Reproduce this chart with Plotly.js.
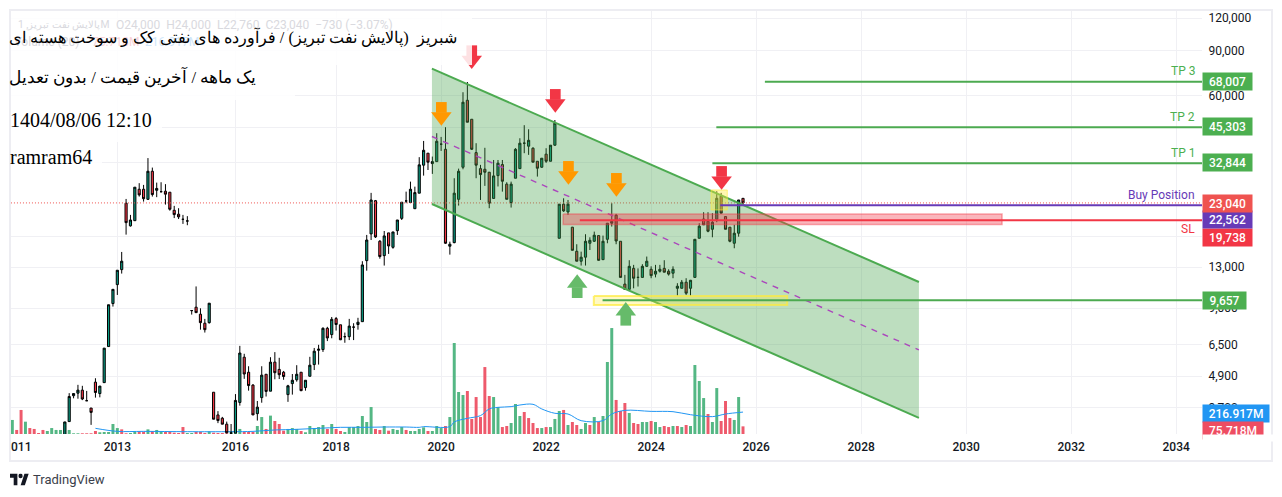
<!DOCTYPE html>
<html><head><meta charset="utf-8">
<script src="https://cdn.plot.ly/plotly-3.0.1.min.js"></script>
<style>html,body{margin:0;padding:0;background:#fff}#c{width:1282px;height:497px}</style>
</head><body><div id="c"></div>
<script>
// candles start at bar 12
const open=[2850,3270,4120,4215,4330,3940,3690,4650,4200,4630,
6390,9380,11110,12700,22980,18770,19660,26030,26030,23790,
30570,25790,25480,25570,25350,21570,20830,19900,19610,8810,
9080,8530,7870,7910,4250,3470,3370,3195,2950,2950,
3880,5810,5080,4530,3510,4050,4990,4290,5560,5210,
5080,4160,4590,4750,5080,4430,4900,5440,6180,6220,
7520,7110,8200,7760,6980,6980,7600,7780,7980,13760,
17470,23510,16360,14390,17630,15500,17980,20070,23450,23110,
21880,25130,32270,35910,32730,33310,38920,37190,15650,16160,
23790,31680,57600,48620,36100,31290,31110,30300,23980,29400,
32440,27240,23110,28720,31290,39260,38230,37540,33420,31690,
35600,33420,38570,16800,22780,21260,18550,14960,13690,14190,
16070,16360,17210,13880,16650,19220,20650,16360,11160,10650,
12840,11850,11850,13080,12740,12200,12520,12840,12520,12300,
10750,10750,11350,10750,11850,16800,19950,19560,18210,19900,
24470,20390,18550,16070,17580,24000];
const high=[3260,4215,4200,4540,4500,4300,3690,4815,4490,6300,
9280,10650,12630,14870,23870,20700,26510,27480,27060,34380,
31580,27620,27710,27240,25350,22440,21970,20700,20470,8810,
10930,8990,8180,9410,4250,3590,3410,3270,3200,4180,
6430,5990,5360,4570,3930,5360,4990,5810,6080,5780,
5140,4540,5000,5410,5080,4730,5830,6310,6490,7590,
7620,8320,8320,7760,7240,8180,7870,8260,13690,17310,
25200,23650,16540,17930,17630,17780,19780,23180,25480,27860,
26640,34660,40060,35910,34850,42930,41530,45290,16300,28720,
31290,61900,67810,48620,39260,32360,37680,30380,33800,33800,
33800,27710,27860,37570,41040,46120,44470,37880,33420,34340,
37540,38570,48300,22780,24010,23650,18600,15930,14910,17420,
16950,17830,17210,17210,19220,22980,20890,16360,12120,13810,
13250,12840,13330,14270,13080,13250,13250,13810,12740,13080,
11250,11580,11760,11580,16650,19220,21200,21200,21020,25570,
25200,20390,18550,18940,23650,24000];
const low=[2850,3270,4025,4010,3960,3940,3175,4050,4060,4630,
6390,9130,10130,12260,17360,18650,19660,24380,23310,23650,
24380,24250,25260,22700,21500,20120,19950,19100,18880,8500,
8650,7430,7240,7840,3340,3225,3195,2940,2950,2950,
3770,4790,4310,3470,3300,3870,4090,4290,4770,4780,
4750,3900,4160,4670,4290,4310,4900,5180,5440,6090,
6710,6880,7370,6770,6610,6770,6770,7430,7980,12580,
16540,16850,14000,13170,14610,15310,17310,19780,22980,23040,
21880,25130,29400,30910,29850,33310,36640,15980,14520,16070,
22500,31110,47350,36950,28720,23650,26820,21970,23980,26680,
25480,23790,22100,28720,31290,35910,35380,33140,29140,31490,
32930,33420,38330,16800,21260,20700,15090,13690,13170,13170,
15130,16260,13760,13840,16070,18650,15930,11850,10650,10650,
10750,10920,11850,13000,11760,11850,12370,12410,12040,11760,
10070,10750,10130,10070,11850,16800,18940,17730,16950,19390,
21020,18210,16210,15370,17040,22760];
const close=[3260,4090,4200,4330,4000,3940,3550,4240,4490,6300,
9280,10650,12630,13690,19320,19780,26510,24750,23930,30570,
24820,26220,25480,24910,21770,20760,20340,19900,19610,8810,
8650,7910,7430,9410,3340,3300,3195,2960,2950,3950,
6030,5000,4510,3470,3720,4950,4280,5560,5060,4970,
4890,4500,4730,4990,4310,4730,5410,6130,6240,7520,
6900,8150,7780,6790,6980,7670,7600,7940,13240,16540,
23650,17000,14270,17160,15690,17780,19780,23180,23450,26030,
25260,32360,36860,33140,33310,39950,38920,16070,15930,25130,
30570,56610,47350,37190,32270,29670,30300,22980,29320,32850,
27960,23790,27240,37190,39260,39260,40300,33140,31400,34340,
33420,38570,46940,22780,21450,22780,15090,13690,14190,16360,
16500,17270,13800,16360,19220,19560,16400,11850,10650,13080,
11760,11850,13080,13690,12040,12520,12740,12410,12200,12740,
10950,11350,10290,11550,16650,18720,18940,17890,19390,24010,
21020,18210,16360,17580,23650,23040];
// volume in millions, one per bar from bar 0
const volume=[139,40,238,122,59,50,10,40,30,59,
40,40,116,40,7,7,7,7,7,30,
17,20,20,99,59,46,7,10,23,26,
23,46,30,40,23,20,20,13,10,69,
10,10,20,20,10,26,13,10,10,7,
26,26,50,20,20,20,79,168,50,182,
129,99,33,50,59,50,30,17,79,59,
69,89,50,99,50,30,20,69,69,79,
178,119,267,50,40,79,33,50,40,69,
40,30,30,50,66,30,30,79,59,79,
168,901,416,386,426,149,366,168,663,376,
366,267,69,79,109,297,178,218,158,109,
59,59,69,69,149,228,238,89,119,89,
50,109,89,168,119,178,713,1049,337,228,
307,208,109,99,119,119,129,119,69,79,
69,79,79,69,89,79,683,525,356,198,
119,455,129,327,158,139,366,75.718];
const volumeSide=[1,-1,-1,1,-1,-1,-1,-1,1,1,
1,1,1,1,1,1,-1,-1,-1,-1,
1,1,1,1,1,-1,-1,1,1,-1,
-1,1,-1,1,1,-1,-1,-1,-1,-1,
1,1,-1,-1,-1,1,-1,-1,-1,-1,
1,1,1,-1,-1,-1,1,1,-1,1,
-1,-1,-1,1,1,1,-1,1,1,1,
1,1,-1,1,-1,-1,1,1,1,1,
1,1,1,-1,-1,1,-1,1,1,1,
-1,1,1,1,1,-1,1,1,1,-1,
1,1,1,1,-1,-1,-1,-1,-1,-1,
1,1,-1,-1,1,1,1,-1,-1,-1,
-1,1,-1,1,1,1,-1,1,-1,-1,
1,1,-1,1,-1,1,1,1,-1,-1,
-1,1,-1,-1,1,1,-1,1,1,-1,
-1,1,-1,1,-1,1,1,1,1,-1,
1,1,-1,-1,-1,1,1,-1];
const maBars=[19,24,30,40,50,55,60,65,70,75,80,85,90,93,94,100,101,104,107,109,111,114,116,119,121,124,127,130,135,137,140,146,151,155,160,163,167];
const maValues=[56,26,26,23,23,26,40,46,56,66,66,69,69,66,73,73,119,155,182,248,264,271,287,294,248,205,198,132,132,198,234,224,221,191,172,198,216.917];

const channelBars=[95.9,207.2];
const channelTop=[76370,11370];
const channelMid=[41680,6200];
const channelBottom=[22820,3380];

const redZoneBars=[125.9,226.2], redZonePrices=[20870,18990];
const yellowZoneBars=[132.9,177.1], yellowZonePrices=[10030,9260];
const smallZoneBars=[159.7,163.4], smallZonePrices=[25860,21630];

const lastBar=272;
const tp3={bar:172,price:68007}, tp2={bar:160.9,price:45303}, tp1={bar:160,price:32844};
const buyLevel={bar:161.8,price:22562}, slLevel={bar:129.7,price:19738}, supportLevel={bar:134.9,price:9657};
const lastClose=23040;

const redArrowBars=[105,124.1,162.1], redArrowHeads=[82460,55820,28060], redArrowShafts=[89670,60700,30520];
const orangeArrowBars=[98.06,127.1,138.06], orangeArrowHeads=[49700,29350,26370], orangeArrowShafts=[54050,31920,28680];
const greenArrowBars=[129.1,140.2], greenArrowHeads=[11250,8780], greenArrowShafts=[10340,8080];

const yearTicks=[24,51,74,98,122,146,170,194,218,242,266];
const yearLabels=['2013','2016','2018','2020','2022','2024','2026','2028','2030','2032','2034'];
const priceTicks=[120000,90000,60000,45000,33000,17000,13000,9000,6500,4900,3700];

const titleLine1='شبریز  (پالایش نفت تبریز) / فرآورده های نفتی کک و سوخت هسته ای';
const titleLine2='یک ماهه / آخرین قیمت / بدون تعدیل';
const titleLine3='1404/08/06 12:10';
const titleLine4='ramram64';
const legendName='پالایش نفت تبریز, 1M';
const legendValues='O24,000  H24,000  L22,760  C23,040  −730 (−3.07%)';

const GREEN='#4caa50', PURPLE='#673ab7', RED='#f23645', ORANGE='#ff9800', ARROWGREEN='#66bb6a';
const barIdx=open.map((_,k)=>k+12);
const volIdx=volume.map((_,k)=>k);
const px=x=>(x-10)/1192, py=y=>(434-y)/424;

function lvl(l,color,name){return {type:'scatter',mode:'lines',x:[l.bar,lastBar],y:[l.price,l.price],yaxis:'y2',line:{color:color,width:2},hoverinfo:'skip',name:name};}
function zone(xs,ys,fill,line,name,w){return {type:'scatter',mode:'lines',x:[xs[0],xs[1],xs[1],xs[0],xs[0]],y:[ys[0],ys[0],ys[1],ys[1],ys[0]],yaxis:'y2',fill:'toself',fillcolor:fill,line:{color:line,width:w},hoverinfo:'skip',name:name};}
function mk(xs,ys,sym,size,color,name){return {type:'scatter',mode:'markers',x:xs,y:ys,yaxis:'y2',marker:{symbol:sym,size:size,color:color,line:{width:0}},hoverinfo:'skip',name:name};}

const traces=[
 {type:'bar',name:'Volume',x:volIdx,y:volume,yaxis:'y',marker:{color:volumeSide.map(s=>s>0?'#54b784':'#ee5a6c'),line:{width:0}},width:0.68,hoverinfo:'skip'},
 {type:'scatter',mode:'lines',name:'Volume MA',x:maBars,y:maValues,yaxis:'y',line:{color:'#2196f3',width:1,shape:'spline'},hoverinfo:'skip'},
 {type:'scatter',mode:'lines',name:'Last',x:[-1,lastBar],y:[lastClose,lastClose],yaxis:'y2',line:{color:'#ef5350',width:1,dash:'1px 2px'},hoverinfo:'skip'},
 {type:'candlestick',name:'Price',x:barIdx,open:open,high:high,low:low,close:close,yaxis:'y2',
  increasing:{line:{color:'#000',width:1},fillcolor:'#089981'},decreasing:{line:{color:'#000',width:1},fillcolor:'#f23645'},hoverinfo:'skip'},
 {type:'scatter',mode:'lines',name:'Channel',x:[channelBars[0],channelBars[1],channelBars[1],channelBars[0],channelBars[0]],
  y:[channelTop[0],channelTop[1],channelBottom[1],channelBottom[0],channelTop[0]],yaxis:'y2',fill:'toself',fillcolor:'rgba(67,160,71,0.35)',line:{width:0},hoverinfo:'skip'},
 {type:'scatter',mode:'lines',name:'Channel top',x:channelBars,y:channelTop,yaxis:'y2',line:{color:GREEN,width:2},hoverinfo:'skip'},
 {type:'scatter',mode:'lines',name:'Channel bottom',x:channelBars,y:channelBottom,yaxis:'y2',line:{color:GREEN,width:2},hoverinfo:'skip'},
 {type:'scatter',mode:'lines',name:'Channel mid',x:channelBars,y:channelMid,yaxis:'y2',line:{color:'#ab47bc',width:1.4,dash:'6px 6px'},hoverinfo:'skip'},
 zone(redZoneBars,redZonePrices,'rgba(242,54,69,0.36)','rgba(242,54,69,0.42)','Red zone',1.5),
 zone(yellowZoneBars,yellowZonePrices,'rgba(255,235,59,0.3)','rgba(255,235,59,0.7)','Yellow zone',2),
 zone(smallZoneBars,smallZonePrices,'rgba(255,235,59,0.4)','rgba(255,235,59,0.6)','Small zone',1),
 lvl(tp3,GREEN,'TP 3'),lvl(tp2,GREEN,'TP 2'),lvl(tp1,GREEN,'TP 1'),lvl(supportLevel,GREEN,'Support'),
 lvl(slLevel,RED,'SL'),lvl(buyLevel,PURPLE,'Buy'),
 mk(redArrowBars,redArrowShafts,'square',10.7,RED,'Red shafts'),mk(redArrowBars,redArrowHeads,'triangle-down',17.8,RED,'Red heads'),
 mk(orangeArrowBars,orangeArrowShafts,'square',10.7,ORANGE,'Orange shafts'),mk(orangeArrowBars,orangeArrowHeads,'triangle-down',17.8,ORANGE,'Orange heads'),
 mk(greenArrowBars,greenArrowShafts,'square',10.7,ARROWGREEN,'Green shafts'),mk(greenArrowBars,greenArrowHeads,'triangle-up',17.8,ARROWGREEN,'Green heads')
];

function whiteBox(x1,y0,y1){return {type:'rect',xref:'paper',yref:'paper',x0:px(11),x1:px(x1),y0:py(y1),y1:py(y0),fillcolor:'rgba(255,255,255,0.85)',line:{width:0},layer:'above'};}
function txt(t,x,y,size,color,font,extra){return Object.assign({text:t,xref:'paper',yref:'paper',x:px(x),y:py(y),xanchor:'left',yanchor:'middle',showarrow:false,font:{size:size,color:color,family:font}},extra||{});}
const SERIF='"Liberation Serif","DejaVu Serif",serif', UI='Roboto,sans-serif';
function tag(t,y,color,w){return {text:t,xref:'paper',yref:'paper',x:px(1202),y:py(y),xanchor:'left',yanchor:'middle',showarrow:false,bgcolor:color,borderpad:0,width:w,height:17,align:'center',font:{size:12,color:'#fff',family:UI,weight:500}};}
function note(t,y,color){return {text:t,xref:'paper',yref:'paper',x:px(1197),y:py(y),xanchor:'right',yanchor:'middle',showarrow:false,font:{size:12,color:color,family:UI}};}

const annotations=[
 txt(legendName,16,25,10.3,'#d9d9de',UI),txt(legendValues,114,25,12,'#d9d9de',UI),
 txt('Volume (20)',12,42,12,'#d9d9de',UI),txt('75.718M',90,42,12,'#f9d3d7',UI),txt('216.917M',143,42,12,'#cfe6fa',UI),
 txt(titleLine1,7,37,16.42,'#000',SERIF),txt(titleLine2,7,77,16.65,'#000',SERIF),
 txt(titleLine3,7.5,120,20,'#000',SERIF),txt(titleLine4,7.5,157,20,'#000',SERIF),
 note('TP 3',71,'#4caf50'),note('TP 2',117,'#4caf50'),note('TP 1',153,'#4caf50'),note('Buy Position',195,PURPLE),note('SL',229,RED),
 tag('68,007',81,'#4caf50',49),tag('45,303',127,'#4caf50',49),tag('32,844',163,'#4caf50',49),
 tag('19,738',237,RED,49),tag('22,562',220,PURPLE,49),tag('23,040',203,'#ef5350',49),
 tag('9,657',300,'#4caf50',43),
 tag('216.917M',413,'#2196f3',66),tag('75.718M',430,'#ee4d62',60),
 {text:' ',xref:'paper',yref:'paper',x:px(1202),y:py(434),xanchor:'left',yanchor:'top',showarrow:false,bgcolor:'#fff',borderpad:0,width:70,height:6},
 txt('011',9,447,12,'#131722',UI,{xanchor:'left',font:{size:12,color:'#131722',family:UI,weight:500}}),
 txt('TradingView',31,479.5,13,'#3a3e4a',UI)
];
const logo='data:image/svg+xml;utf8,'+encodeURIComponent('<svg xmlns="http://www.w3.org/2000/svg" viewBox="0 0 36 20" width="36" height="20"><path fill="#131722" d="M14 20H7V7H0V0h14v20zM28 20h-8L27.5 0h8L28 20z"/><circle cx="20" cy="4" r="4" fill="#131722"/></svg>');

const layout={width:1282,height:497,margin:{l:10,r:80,t:10,b:63,pad:0},paper_bgcolor:'#fff',plot_bgcolor:'#fff',showlegend:false,bargap:0.3,dragmode:false,
 xaxis:{range:[-0.53,271.9],tickmode:'array',tickvals:yearTicks,ticktext:yearLabels,showgrid:true,gridcolor:'#f0f0f4',gridwidth:1,zeroline:false,showline:false,ticks:'',tickfont:{family:UI,size:12,color:'#131722',weight:500},rangeslider:{visible:false},automargin:false,ticklabelstandoff:4},
 yaxis:{range:[0,4198],visible:false,fixedrange:true,showgrid:false},
 yaxis2:{overlaying:'y',side:'right',type:'log',range:[3.4664,5.1105],tickmode:'array',tickvals:priceTicks,ticktext:priceTicks.map(v=>v.toLocaleString('en-US')),showgrid:true,gridcolor:'#f0f0f4',gridwidth:1,zeroline:false,showline:false,ticks:'outside',ticklen:3,tickcolor:'rgba(0,0,0,0)',tickfont:{family:UI,size:12,color:'#131722'},automargin:false},
 shapes:[whiteBox(472,11,65),whiteBox(295,65,100),whiteBox(162,100,142),whiteBox(102,142,180),
  {type:'rect',xref:'paper',yref:'paper',x0:0,x1:px(1272),y0:py(461),y1:1,line:{color:'#ededf2',width:2},layer:'above'}],
 annotations:annotations,
 images:[{source:logo,xref:'paper',yref:'paper',x:px(10),y:py(473.5),sizex:19/1192,sizey:12/424,xanchor:'left',yanchor:'top',sizing:'stretch',layer:'above'}]
};
Plotly.newPlot('c',traces,layout,{displayModeBar:false,staticPlot:true});
</script></body></html>
